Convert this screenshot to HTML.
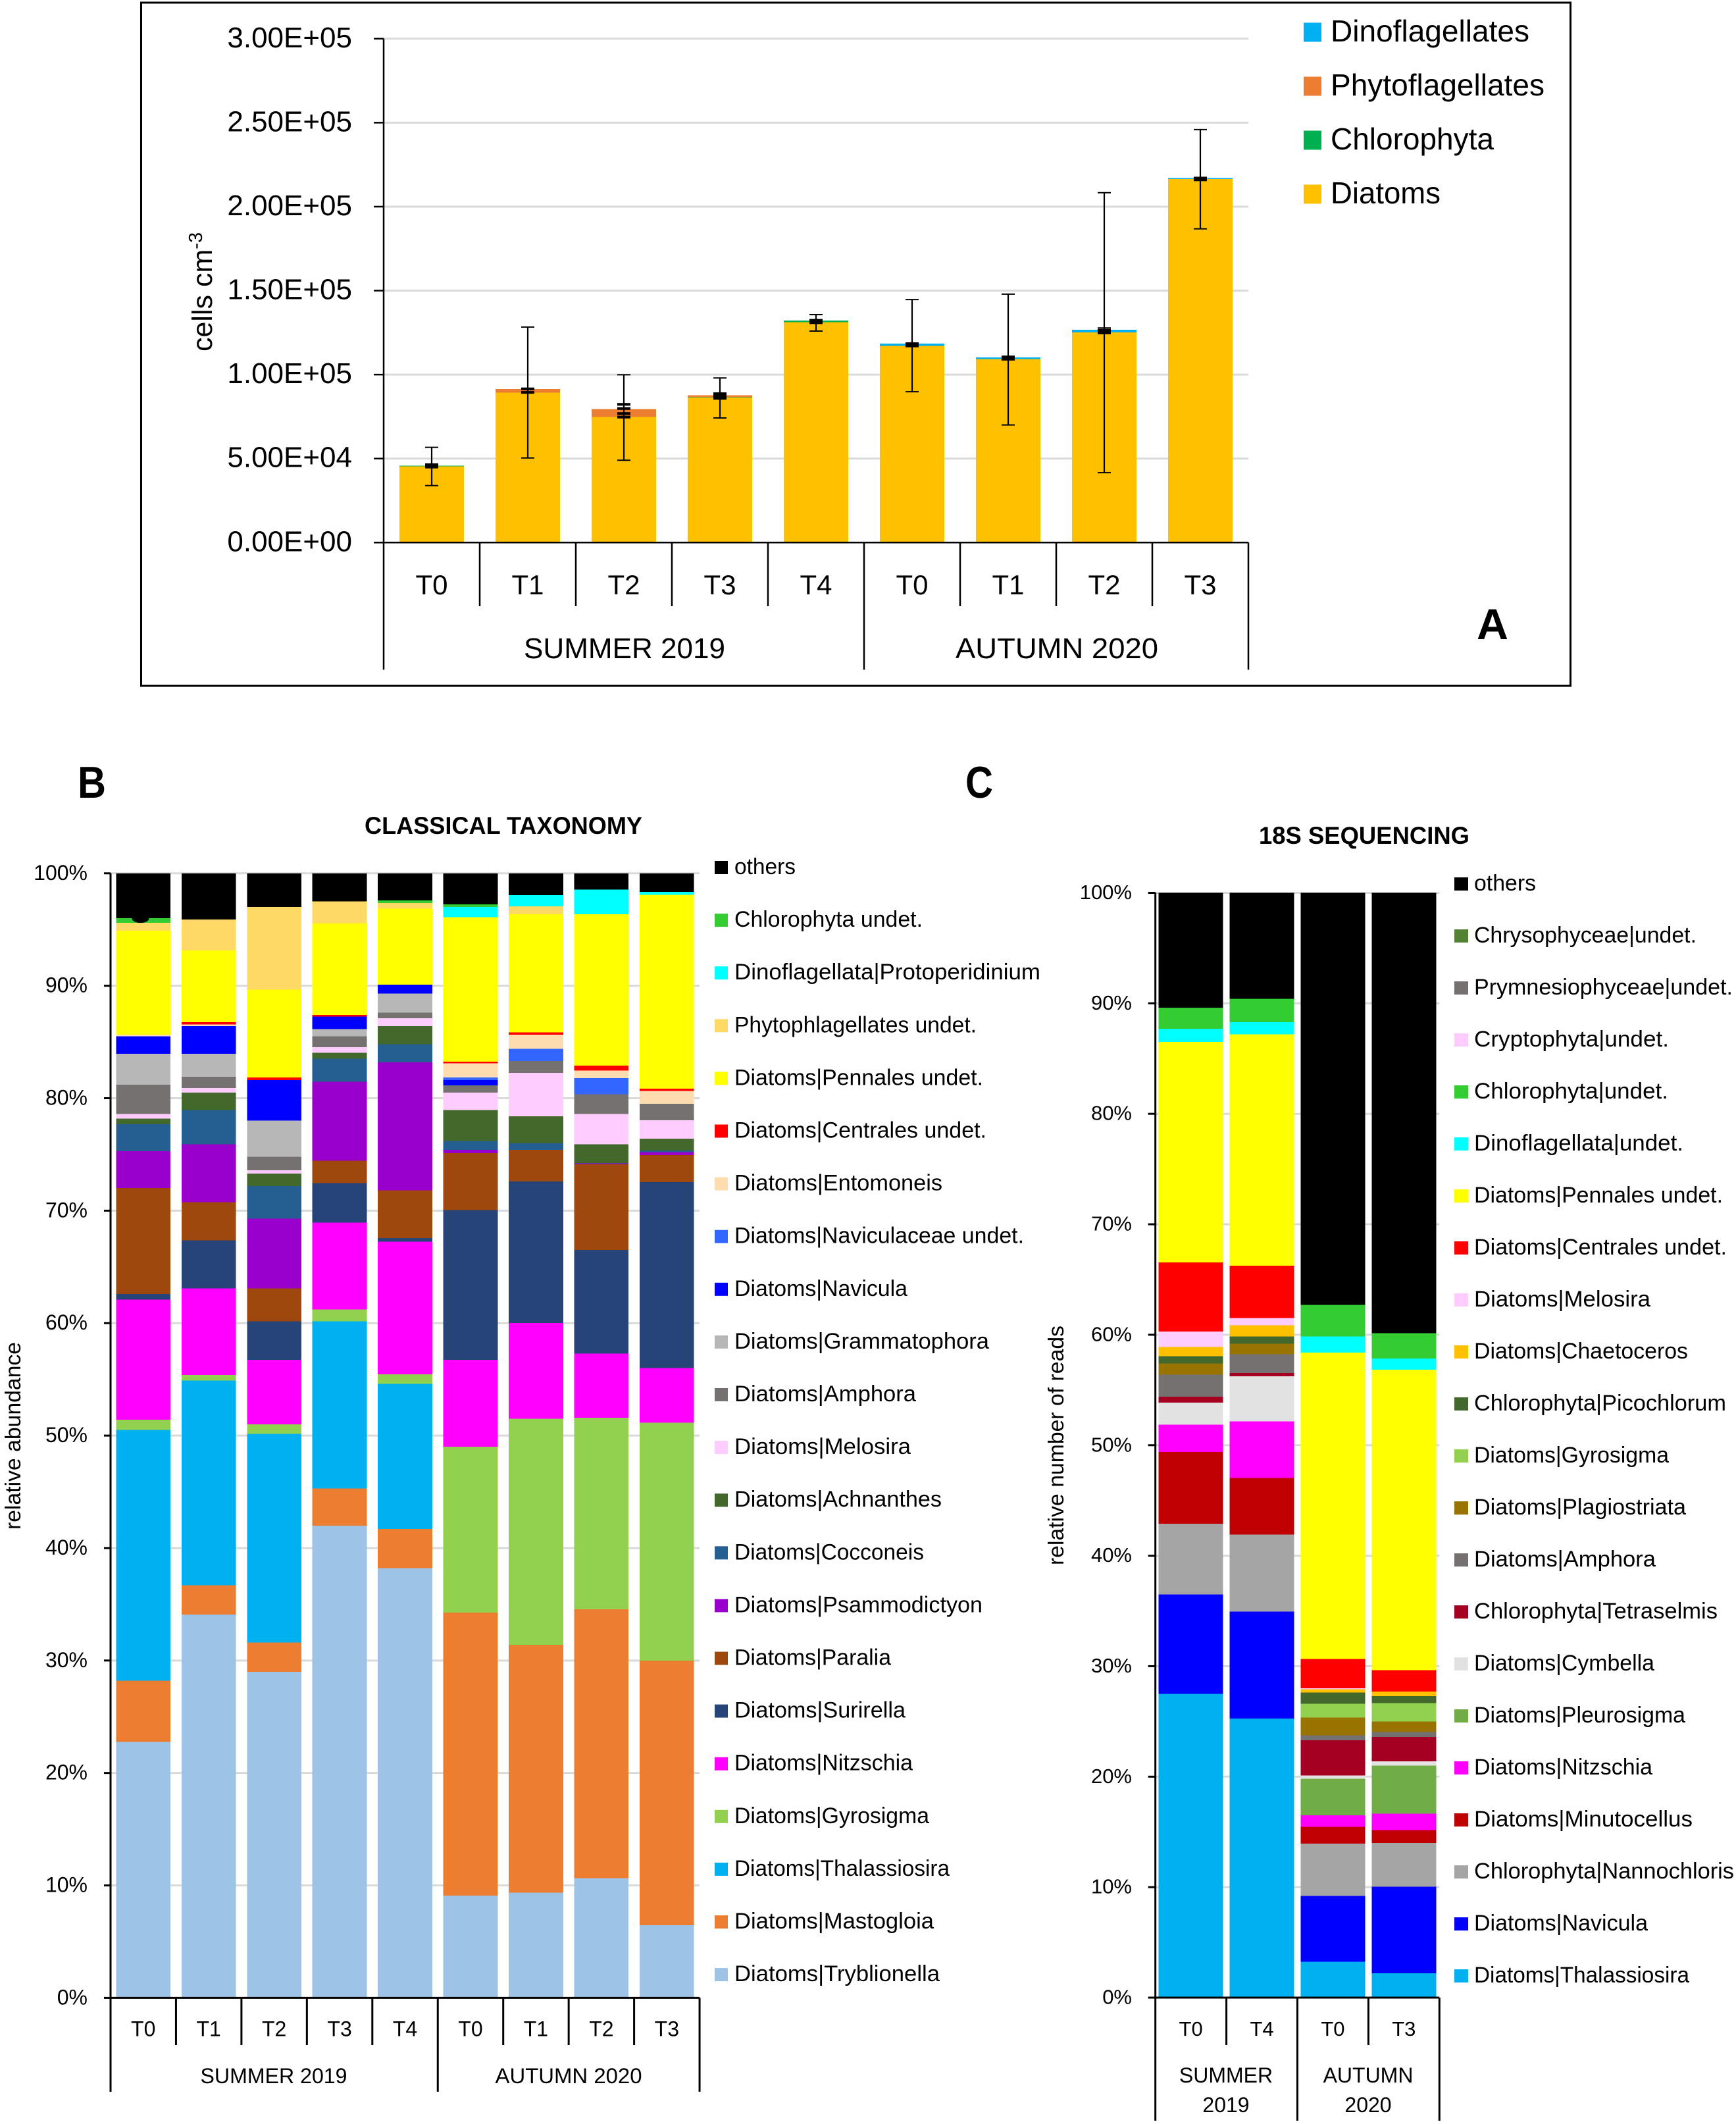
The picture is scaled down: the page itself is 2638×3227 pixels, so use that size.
<!DOCTYPE html>
<html lang="en">
<head>
<meta charset="utf-8">
<title>Phytoplankton abundance and composition</title>
<style>
html,body{margin:0;padding:0;background:#fff;}
svg{display:block;font-family:"Liberation Sans",sans-serif;fill:#000;}
</style>
</head>
<body>
<svg id="figure" xmlns="http://www.w3.org/2000/svg" width="2638" height="3227" viewBox="0 0 2638 3227">
  <rect x="0" y="0" width="2638" height="3227" fill="#fff"/>
  <rect x="214.5" y="4" width="2172" height="1038" fill="none" stroke="#000" stroke-width="3"/>
  <g id="panelA"></g>
  <g id="panelB"></g>
  <g id="panelC"></g>

  <text x="2244" y="971" font-size="66" font-weight="bold" textLength="48" lengthAdjust="spacingAndGlyphs">A</text>
  <text x="118" y="1212" font-size="68" font-weight="bold" textLength="43" lengthAdjust="spacingAndGlyphs">B</text>
  <text x="1467" y="1212" font-size="68" font-weight="bold" textLength="42" lengthAdjust="spacingAndGlyphs">C</text>

  <text x="554" y="1267" font-size="37" font-weight="bold" textLength="422" lengthAdjust="spacingAndGlyphs">CLASSICAL TAXONOMY</text>
  <text x="1913" y="1282" font-size="37" font-weight="bold" textLength="320" lengthAdjust="spacingAndGlyphs">18S SEQUENCING</text>

  <text transform="translate(322,534) rotate(-90)" font-size="43">cells cm<tspan dy="-15" font-size="29">-3</tspan></text>
  <text transform="translate(31,2324) rotate(-90)" font-size="33" textLength="285" lengthAdjust="spacingAndGlyphs">relative abundance</text>
  <text transform="translate(1616,2378) rotate(-90)" font-size="33" textLength="364" lengthAdjust="spacingAndGlyphs">relative number of reads</text>

  <text x="796" y="1000" font-size="44" textLength="306" lengthAdjust="spacingAndGlyphs">SUMMER 2019</text>
  <text x="1452" y="1000" font-size="44" textLength="308" lengthAdjust="spacingAndGlyphs">AUTUMN 2020</text>
  <text x="304.5" y="3165" font-size="32" textLength="223" lengthAdjust="spacingAndGlyphs">SUMMER 2019</text>
  <text x="752.5" y="3165" font-size="32" textLength="223" lengthAdjust="spacingAndGlyphs">AUTUMN 2020</text>
  <text x="1863" y="3164" font-size="32" text-anchor="middle">SUMMER</text>
  <text x="1863" y="3209" font-size="32" text-anchor="middle">2019</text>
  <text x="2079" y="3164" font-size="32" text-anchor="middle">AUTUMN</text>
  <text x="2079" y="3209" font-size="32" text-anchor="middle">2020</text>
</svg>

<script>
/* ---------- Panel A data ---------- */
const aCategories = ['T0','T1','T2','T3','T4','T0','T1','T2','T3'];
const aTickValues = [0,50000,100000,150000,200000,250000,300000];
const aTickLabels = ['0.00E+00','5.00E+04','1.00E+05','1.50E+05','2.00E+05','2.50E+05','3.00E+05'];
const aDiatoms         = [45300,89300,74700,86300,131200,117100,109200,125100,216500];
const aChlorophyta     = [500,0,0,300,900,0,0,0,0];
const aPhytoflagellates= [0,2100,4800,1100,100,0,0,0,0];
const aDinoflagellates = [0,0,0,0,0,1400,1000,1600,500];
const aErrorTop        = [56700,128300,99900,98000,135700,144700,147900,208300,245900];
const aErrorBottom     = [33900,50400,49000,74200,125900,89800,70000,41600,186800];
const aMinorCapA = [46300,91500,82300,88600,132300,118400,110500,126400,217000];
const aMinorCapB = [45000,89400,79800,87100,130900,117100,109200,124900,216000];
const aMinorCapC = [null,null,76800,85900,null,null,null,null,null];
const aMinorCapD = [null,null,74700,null,null,null,null,null,null];
const aThinCap   = [null,null,null,null,null,null,null,127800,null];
const aSeriesValues = [aDiatoms,aChlorophyta,aPhytoflagellates,aDinoflagellates];
const aSeriesLabels = ['Diatoms','Chlorophyta','Phytoflagellates','Dinoflagellates'];
const aSeriesColors = ['#ffc000','#00b050','#ed7d31','#00b0f0'];
const aLegendWidths = [167,248,325,302];

/* ---------- Panel B data (percent) ---------- */
const bCategories = ['T0','T1','T2','T3','T4','T0','T1','T2','T3'];
const bTickValues = [0,10,20,30,40,50,60,70,80,90,100];
const bTickLabels = ['0%','10%','20%','30%','40%','50%','60%','70%','80%','90%','100%'];
const bTryblionella   = [22.75,34.1,29.0,42.0,38.2,9.1,9.35,10.65,6.45];
const bMastogloia     = [5.45,2.6,2.6,3.3,3.5,25.15,22.05,23.9,23.55];
const bThalassiosira  = [22.3,18.2,18.55,14.85,12.9,0,0,0,0];
const bGyrosigma      = [0.9,0.5,0.85,1.05,0.85,14.75,20.1,17.05,21.15];
const bNitzschia      = [10.7,7.7,5.75,7.75,11.8,7.75,8.5,5.7,4.85];
const bSurirella      = [0.5,4.25,3.4,3.5,0.3,13.3,12.6,9.2,16.55];
const bParalia        = [9.4,3.4,2.95,2.0,4.25,5.05,2.8,7.65,2.4];
const bPsammodictyon  = [3.3,5.15,6.2,7.0,11.4,0.3,0,0.05,0.25];
const bCocconeis      = [2.4,3.05,2.9,2.05,1.6,0.8,0.6,0.05,0.15];
const bAchnanthes     = [0.5,1.55,1.1,0.55,1.6,2.75,2.4,1.65,1.05];
const bMelosira       = [0.4,0.4,0.3,0.5,0.7,1.55,3.85,2.7,1.65];
const bAmphora        = [2.6,1.0,1.2,0.95,0.5,0.65,1.05,1.75,1.45];
const bGrammatophora  = [2.75,2.05,3.2,0.65,1.7,0,0,0,0];
const bNavicula       = [1.55,2.45,3.6,1.1,0.8,0.45,0,0,0];
const bNaviculaceae   = [0,0,0,0,0,0.25,1.1,1.45,0];
const bEntomoneis     = [0.15,0.15,0,0,0,1.25,1.25,0.65,1.15];
const bCentrales      = [0,0.2,0.25,0.15,0,0.15,0.2,0.45,0.2];
const bPennales       = [9.25,6.4,7.8,8.15,6.75,12.85,10.5,13.45,17.25];
const bPhytophlag     = [0.7,2.75,7.35,1.95,0.5,0,0.7,0,0];
const bProtoperidinium= [0,0,0,0,0,0.9,1.0,2.2,0.25];
const bChlorophyta    = [0.4,0,0,0,0.25,0.25,0,0,0];
const bOthers         = [4.0,4.1,3.0,2.5,2.4,2.75,1.95,1.45,1.65];
const bSeriesValues = [bTryblionella,bMastogloia,bThalassiosira,bGyrosigma,bNitzschia,bSurirella,bParalia,bPsammodictyon,bCocconeis,bAchnanthes,bMelosira,bAmphora,bGrammatophora,bNavicula,bNaviculaceae,bEntomoneis,bCentrales,bPennales,bPhytophlag,bProtoperidinium,bChlorophyta,bOthers];
const bSeriesLabels = ['Diatoms|Tryblionella','Diatoms|Mastogloia','Diatoms|Thalassiosira','Diatoms|Gyrosigma','Diatoms|Nitzschia','Diatoms|Surirella','Diatoms|Paralia','Diatoms|Psammodictyon','Diatoms|Cocconeis','Diatoms|Achnanthes','Diatoms|Melosira','Diatoms|Amphora','Diatoms|Grammatophora','Diatoms|Navicula','Diatoms|Naviculaceae undet.','Diatoms|Entomoneis','Diatoms|Centrales undet.','Diatoms|Pennales undet.','Phytophlagellates undet.','Dinoflagellata|Protoperidinium','Chlorophyta undet.','others'];
const bSeriesColors = ['#9dc3e6','#ed7d31','#00b0f0','#92d050','#ff00ff','#264478','#9e480e','#9900cc','#255e91','#43682b','#ffccff','#767171','#b7b7b7','#0000ff','#3366ff','#fedcb0','#ff0000','#ffff00','#ffd966','#00ffff','#33cc33','#000000'];
const bLegendWidths = [312,303,327,296,271,260,238,377,288,315,268,276,387,263,440,316,383,378,368,465,286,93];

/* ---------- Panel C data (percent) ---------- */
const cCategories = ['T0','T4','T0','T3'];
const cTickValues = [0,10,20,30,40,50,60,70,80,90,100];
const cTickLabels = ['0%','10%','20%','30%','40%','50%','60%','70%','80%','90%','100%'];
const cThalassiosira = [27.5,25.25,3.25,2.2];
const cNavicula      = [9.0,9.7,5.95,7.85];
const cNannochloris  = [6.4,6.95,4.75,3.95];
const cMinutocellus  = [6.5,5.15,1.5,1.15];
const cNitzschia     = [2.45,5.1,1.05,1.5];
const cPleurosigma   = [0,0,3.3,4.35];
const cCymbella      = [2.0,4.1,0.3,0.4];
const cTetraselmis   = [0.55,0.3,3.2,2.2];
const cAmphora       = [2.0,1.7,0.45,0.45];
const cPlagiostriata = [1.0,0.95,1.6,0.95];
const cGyrosigma     = [0,0,1.25,1.65];
const cPicochlorum   = [0.65,0.65,1.0,0.65];
const cChaetoceros   = [0.85,1.0,0.3,0.4];
const cMelosira      = [1.4,0.65,0.1,0];
const cCentrales     = [6.25,4.75,2.65,1.95];
const cPennales      = [19.95,20.95,27.75,27.2];
const cDinoflagellata= [1.2,1.1,1.45,1.0];
const cChlorophyta   = [1.9,2.1,2.85,2.3];
const cCryptophyta   = [0,0,0,0];
const cPrymnesio     = [0,0,0,0];
const cChrysophyceae = [0,0,0,0];
const cOthers        = [10.4,9.6,37.3,39.85];
const cSeriesValues = [cThalassiosira,cNavicula,cNannochloris,cMinutocellus,cNitzschia,cPleurosigma,cCymbella,cTetraselmis,cAmphora,cPlagiostriata,cGyrosigma,cPicochlorum,cChaetoceros,cMelosira,cCentrales,cPennales,cDinoflagellata,cChlorophyta,cCryptophyta,cPrymnesio,cChrysophyceae,cOthers];
const cSeriesLabels = ['Diatoms|Thalassiosira','Diatoms|Navicula','Chlorophyta|Nannochloris','Diatoms|Minutocellus','Diatoms|Nitzschia','Diatoms|Pleurosigma','Diatoms|Cymbella','Chlorophyta|Tetraselmis','Diatoms|Amphora','Diatoms|Plagiostriata','Diatoms|Gyrosigma','Chlorophyta|Picochlorum','Diatoms|Chaetoceros','Diatoms|Melosira','Diatoms|Centrales undet.','Diatoms|Pennales undet.','Dinoflagellata|undet.','Chlorophyta|undet.','Cryptophyta|undet.','Prymnesiophyceae|undet.','Chrysophyceae|undet.','others'];
const cSeriesColors = ['#00b0f0','#0000ff','#a5a5a5','#c00000','#ff00ff','#70ad47','#e2e2e2','#a50021','#767171','#997300','#92d050','#43682b','#ffc000','#ffccff','#ff0000','#ffff00','#00ffff','#33cc33','#ffccff','#767171','#548235','#000000'];
const cLegendWidths = [327,264,395,332,271,321,274,370,276,322,296,383,325,268,384,378,318,295,296,393,338,94];

/* ---------- Drawing helpers ---------- */
const NS = 'http://www.w3.org/2000/svg';
function mk(parent, tag, attrs, txt) {
  const e = document.createElementNS(NS, tag);
  for (const k in attrs) e.setAttribute(k, attrs[k]);
  if (txt !== undefined) e.textContent = txt;
  parent.appendChild(e);
  return e;
}
function slug(s) {
  return s.toLowerCase().replace(/[^a-z0-9]+/g, '-').replace(/-$/, '');
}
function sum(rows, i, upto) {
  let t = 0;
  for (let r = 0; r < upto; r++) t += rows[r][i];
  return t;
}

function drawPanel(root, prefix, cfg) {
  const axis = {
    x: i => cfg.left + cfg.catW * (i + 0.5),
    y: v => cfg.y0 - (v / cfg.maxV) * (cfg.y0 - cfg.yTop)
  };
  const right = cfg.left + cfg.catW * cfg.categories.length;

  /* gridlines, y ticks, y labels */
  cfg.tickValues.forEach((v, i) => {
    const y = axis.y(v);
    if (v > 0) {
      const g = mk(root, 'line', {x1: cfg.left, x2: right, y1: y, y2: y, stroke: '#d9d9d9', 'stroke-width': cfg.gridW});
      
      
    }
    const t = mk(root, 'line', {x1: cfg.left - cfg.tickLen, x2: cfg.left, y1: y, y2: y, stroke: '#000', 'stroke-width': cfg.axisW});
    
    
    const l = mk(root, 'text', {x: cfg.labelRight, y: y + cfg.labelDy, 'font-size': cfg.tickFont, 'text-anchor': 'end'}, cfg.tickLabels[i]);
    
    
  });

  /* stacked bars */
  cfg.categories.forEach((cat, i) => {
    cfg.series.forEach((vals, s) => {
      if (vals[i] <= 0) return;
      const top = axis.y(sum(cfg.series, i, s + 1));
      const bottom = axis.y(sum(cfg.series, i, s));
      const r = mk(root, 'rect', {x: axis.x(i) - cfg.barW / 2, y: top, width: cfg.barW, height: bottom - top, fill: cfg.colors[s], 'shape-rendering': 'crispEdges'});
      
      
    });
  });

  /* axes */
  const yAxis = mk(root, 'line', {x1: cfg.left, x2: cfg.left, y1: cfg.yTop, y2: cfg.y0, stroke: '#000', 'stroke-width': cfg.axisW});
  
  
  const xAxis = mk(root, 'line', {x1: cfg.left, x2: right, y1: cfg.y0, y2: cfg.y0, stroke: '#000', 'stroke-width': cfg.axisW});
  
  

  /* category separators and labels */
  for (let k = 0; k <= cfg.categories.length; k++) {
    const x = cfg.left + cfg.catW * k;
    const sep = mk(root, 'line', {x1: x, x2: x, y1: cfg.y0, y2: cfg.tickBottom, stroke: '#000', 'stroke-width': cfg.axisW});
    
    
  }
  cfg.categories.forEach((cat, i) => {
    const l = mk(root, 'text', {x: axis.x(i), y: cfg.catBase, 'font-size': cfg.catFont, 'text-anchor': 'middle'}, cat);
    
    
  });
  cfg.groupEdges.forEach(k => {
    const x = cfg.left + cfg.catW * k;
    const sep = mk(root, 'line', {x1: x, x2: x, y1: cfg.tickBottom, y2: cfg.groupBottom, stroke: '#000', 'stroke-width': cfg.axisW});
    
    
  });
  return axis;
}

function drawLegend(root, prefix, labels, colors, widths, lg) {
  const n = labels.length;
  labels.forEach((label, s) => {
    const cy = lg.firstY + lg.step * (n - 1 - s);
    const swatch = mk(root, 'rect', {x: lg.swX, y: cy - lg.swH / 2, width: lg.swW, height: lg.swH, fill: colors[s]});
    
    
    const t = mk(root, 'text', {x: lg.textX, y: cy + lg.textDy, 'font-size': lg.font, textLength: widths[s], lengthAdjust: 'spacingAndGlyphs'}, label);
    
    
  });
}

/* ---------- Panel A ---------- */
const panelA = document.getElementById('panelA');
const aAxis = drawPanel(panelA, 'panel-a', {
  categories: aCategories, series: aSeriesValues, labels: aSeriesLabels, colors: aSeriesColors,
  tickValues: aTickValues, tickLabels: aTickLabels, maxV: 300000,
  left: 583, catW: 146, barW: 98, y0: 824.3, yTop: 58.8, gridW: 3, axisW: 2.5, tickLen: 15,
  labelRight: 535, labelDy: 13, tickFont: 44, tickBottom: 921, groupBottom: 1017.5,
  catBase: 903, catFont: 42, groupEdges: [0, 5, 9]
});
aCategories.forEach((cat, i) => {
  const x = aAxis.x(i);
  const capW = 20;
  const whisker = mk(panelA, 'line', {x1: x, x2: x, y1: aAxis.y(aErrorTop[i]), y2: aAxis.y(aErrorBottom[i]), stroke: '#000', 'stroke-width': 2.2});
  
  
  [aErrorTop[i], aErrorBottom[i], aThinCap[i]].forEach((v, c) => {
    if (v === null) return;
    const cap = mk(panelA, 'line', {x1: x - capW / 2, x2: x + capW / 2, y1: aAxis.y(v), y2: aAxis.y(v), stroke: '#000', 'stroke-width': 2});
    
    
  });
  [aMinorCapA[i], aMinorCapB[i], aMinorCapC[i], aMinorCapD[i]].forEach((v, c) => {
    if (v === null) return;
    const mark = mk(panelA, 'line', {x1: x - capW / 2, x2: x + capW / 2, y1: aAxis.y(v), y2: aAxis.y(v), stroke: '#000', 'stroke-width': 4.2});
    
    
  });
});
drawLegend(panelA, 'panel-a', aSeriesLabels, aSeriesColors, aLegendWidths, {
  swX: 1981, swW: 27, swH: 29, firstY: 49, step: 82, textX: 2022, textDy: 14, font: 46
});

/* ---------- Panel B ---------- */
const panelB = document.getElementById('panelB');
const bAxis = drawPanel(panelB, 'panel-b', {
  categories: bCategories, series: bSeriesValues, labels: bSeriesLabels, colors: bSeriesColors,
  tickValues: bTickValues, tickLabels: bTickLabels, maxV: 100,
  left: 168, catW: 99.45, barW: 82.7, y0: 3035.4, yTop: 1326.8, gridW: 3, axisW: 3, tickLen: 10,
  labelRight: 133, labelDy: 10, tickFont: 32, tickBottom: 3107, groupBottom: 3178,
  catBase: 3093.5, catFont: 32, groupEdges: [0, 5, 9]
});
const bBlob = mk(panelB, 'ellipse', {cx: 213.5, cy: bAxis.y(96), rx: 13, ry: 7, fill: '#000'});


drawLegend(panelB, 'panel-b', bSeriesLabels, bSeriesColors, bLegendWidths, {
  swX: 1086, swW: 20, swH: 20, firstY: 1318, step: 80.1, textX: 1116, textDy: 10, font: 34.5
});

/* ---------- Panel C ---------- */
const panelC = document.getElementById('panelC');
drawPanel(panelC, 'panel-c', {
  categories: cCategories, series: cSeriesValues, labels: cSeriesLabels, colors: cSeriesColors,
  tickValues: cTickValues, tickLabels: cTickLabels, maxV: 100,
  left: 1755.7, catW: 107.9, barW: 98, y0: 3035, yTop: 1356.5, gridW: 3, axisW: 3, tickLen: 11,
  labelRight: 1720, labelDy: 9.5, tickFont: 31, tickBottom: 3107, groupBottom: 3222,
  catBase: 3093, catFont: 31, groupEdges: [0, 2, 4]
});
drawLegend(panelC, 'panel-c', cSeriesLabels, cSeriesColors, cLegendWidths, {
  swX: 2210, swW: 21, swH: 20, firstY: 1343, step: 79, textX: 2240, textDy: 10, font: 34.4
});
</script>
</body>
</html>
